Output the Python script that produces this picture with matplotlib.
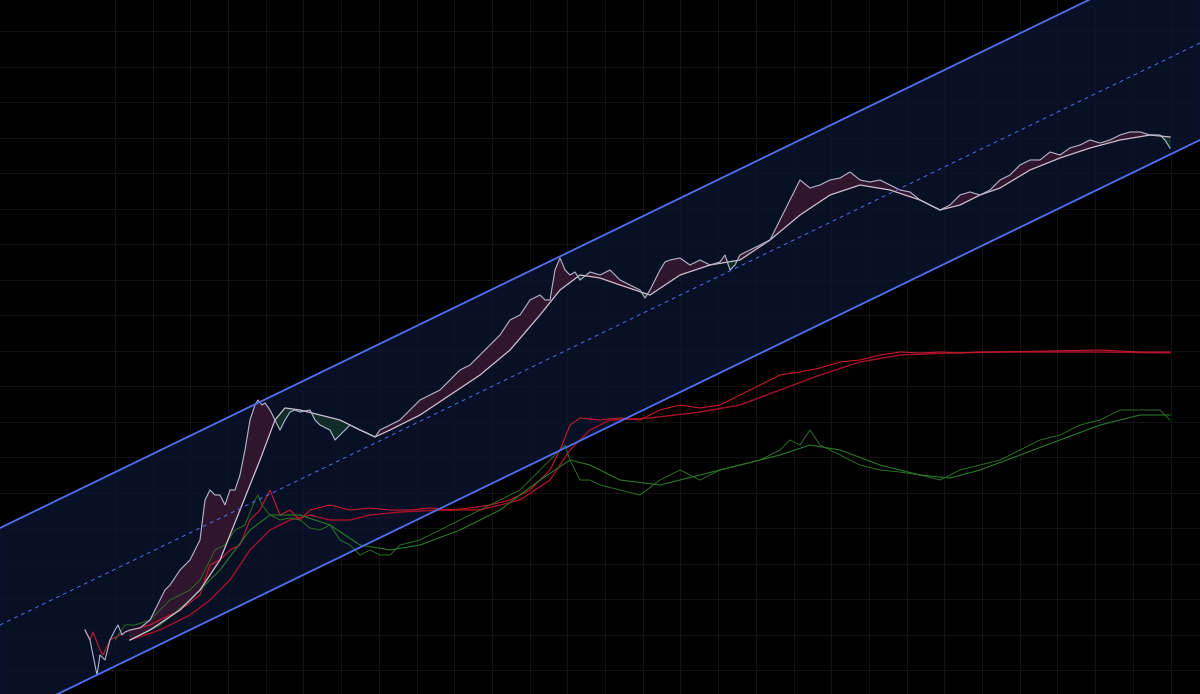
import matplotlib.pyplot as plt
import numpy as np

# readings taken off the chart (time index, inverted log-price scale)
price_t = [85,90,95,97,100,105,110,115,118,122,125,130,140,150,155,160,165,170,180,190,200,205,210,215,220,225,230,235,240,245,250,255,258,262,265,270,275,280,285,290,295,300,310,315,320,330,335,340,350,360,365,375,380,390,400,410,420,430,440,450,460,470,480,490,500,510,520,530,540,545,550,555,560,565,570,575,580,590,600,610,620,630,640,645,650,660,665,670,680,690,700,710,720,725,730,735,740,750,760,770,775,780,790,800,810,820,830,840,850,860,870,880,890,900,910,920,930,940,950,960,970,980,990,1000,1010,1020,1030,1040,1050,1060,1070,1080,1090,1100,1110,1120,1130,1140,1150,1160,1165,1170]
price_v = [630,640,665,675,655,660,640,630,625,635,632,630,628,620,610,600,590,585,570,560,540,500,490,495,495,505,490,490,475,450,420,405,400,405,403,410,420,430,420,412,410,412,410,420,425,430,440,435,425,430,432,437,430,425,420,410,400,395,390,380,370,365,355,345,335,320,315,300,295,300,300,270,258,270,275,272,280,272,275,270,280,285,290,298,290,270,262,260,258,265,260,265,262,255,270,265,255,250,245,240,230,220,200,180,188,185,180,178,172,180,182,180,185,190,192,200,205,210,205,195,192,195,190,180,175,165,160,160,152,155,148,145,140,143,140,135,132,132,135,135,140,148]

ma_t = [130,150,180,200,220,240,260,275,285,300,320,340,360,375,390,420,450,480,510,540,560,580,600,620,650,680,710,740,770,800,830,860,890,920,940,960,980,1000,1030,1060,1090,1120,1150,1170]
ma_v = [640,630,610,590,560,510,460,420,408,410,415,420,430,437,430,415,395,375,350,315,290,275,278,285,295,275,265,260,240,215,195,185,190,200,210,205,195,188,170,158,148,140,135,137]

red_t = [85,90,93,100,103,110,120,130,150,180,200,210,220,230,240,250,260,270,280,290,300,310,330,350,370,390,410,430,450,470,490,510,530,550,560,570,580,600,620,640,660,680,700,720,740,760,780,800,820,840,860,880,900,920,940,960,980,1000,1050,1100,1140,1170]
red_v = [630,640,632,650,655,640,635,630,625,610,595,565,560,550,545,520,510,490,515,510,520,510,505,510,508,510,510,508,510,508,505,500,490,470,450,425,418,420,418,420,410,405,408,405,395,385,375,372,368,362,360,355,352,353,352,353,352,352,351,350,352,352]
red_ma_t = [130,160,190,210,230,250,270,290,310,330,350,370,400,440,480,520,550,570,590,610,650,700,740,780,820,860,900,950,1000,1100,1170]
red_ma_v = [640,630,615,600,580,550,530,520,515,520,520,515,512,510,510,500,480,450,430,420,418,412,405,390,375,362,355,353,352,352,353]

grn_t = [115,125,135,150,170,190,200,210,215,225,235,245,255,258,262,270,280,290,300,310,320,330,340,350,360,370,380,390,400,420,440,460,480,500,520,540,550,560,565,570,580,590,600,620,640,660,680,700,720,740,760,780,790,800,810,820,830,840,860,880,900,920,940,960,980,1000,1020,1040,1060,1080,1100,1120,1140,1160,1170]
grn_v = [640,625,625,620,600,590,580,560,550,545,530,525,500,495,505,515,520,518,520,528,530,525,540,545,555,550,555,555,545,540,530,520,510,500,490,470,460,450,445,460,480,480,485,490,495,480,470,480,470,465,460,450,440,445,430,445,450,455,465,470,472,475,480,470,465,460,450,440,435,425,420,410,410,410,420]
grn_ma_t = [130,160,190,220,250,270,300,330,360,390,420,460,500,540,570,590,620,660,700,740,780,810,840,880,920,950,980,1020,1060,1100,1140,1170]
grn_ma_v = [640,625,600,570,530,515,515,525,545,550,545,530,510,480,460,465,480,485,475,465,455,445,450,465,475,478,470,455,440,425,415,415]

# regression channel: value at the left and right edge
chan_upper = (528, -54)
chan_lower = (722, 140)

fig = plt.figure(figsize=(12, 6.94), dpi=100)
fig.patch.set_facecolor("black")
ax = fig.add_axes([0, 0, 1, 1])
ax.set_facecolor("black")
ax.set_xlim(0, 1200)
ax.set_ylim(694, 0)
ax.axis("off")

for gx in np.arange(115, 1200, 37.7):
    ax.axvline(gx, color="#121212", lw=0.8, zorder=0)
for gy in np.arange(31, 694, 35.5):
    ax.axhline(gy, color="#121212", lw=0.8, zorder=0)

cx = np.array([0, 1200])
up = np.array(chan_upper)
lo = np.array(chan_lower)
ax.fill_between(cx, up, lo, color="#0b1530", alpha=0.8, zorder=1)
ax.plot(cx, up, color="#4f6ff0", lw=1.3, zorder=5)
ax.plot(cx, lo, color="#4f6ff0", lw=1.3, zorder=5)
ax.plot(cx, (up + lo) / 2, color="#4f6ff0", lw=0.7, ls=(0, (4, 4)), zorder=5)

# price vs moving average with shaded gap
grid_t = np.arange(130, 1171)
p = np.interp(grid_t, price_t, price_v)
m = np.interp(grid_t, ma_t, ma_v)
ax.fill_between(grid_t, p, m, where=p <= m, color="#4a1a35", alpha=0.6, zorder=2, interpolate=True)
ax.fill_between(grid_t, p, m, where=p > m, color="#1a3f2e", alpha=0.6, zorder=2, interpolate=True)

ax.plot(red_ma_t, red_ma_v, color="#a8102a", lw=1.0, zorder=3)
ax.plot(red_t, red_v, color="#c81a2c", lw=0.8, zorder=3)
ax.plot(grn_ma_t, grn_ma_v, color="#2a7a2a", lw=0.8, zorder=3)
ax.plot(grn_t, grn_v, color="#2c7020", lw=0.7, zorder=3)

ax.plot(ma_t, ma_v, color="#cdbfd0", lw=0.9, zorder=4)
ax.plot(price_t, price_v, color="#aab6cc", lw=0.8, zorder=4)

fig.savefig("out.png", dpi=100, facecolor="black")
